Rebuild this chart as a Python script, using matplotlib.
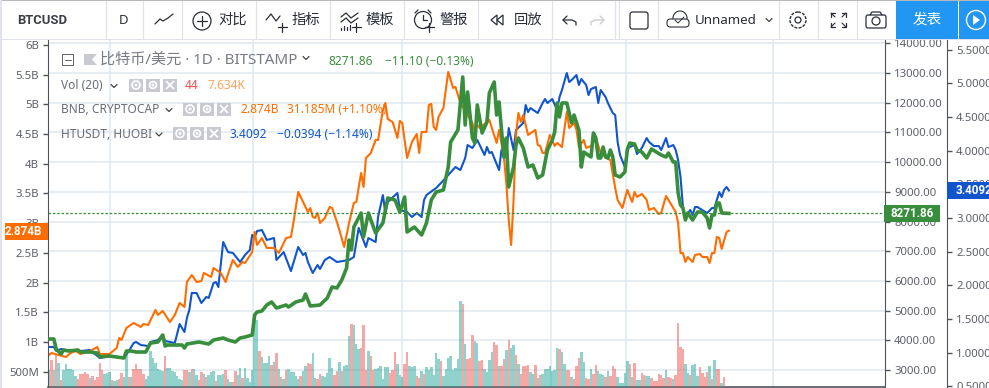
import matplotlib
matplotlib.use('Agg')
import matplotlib.pyplot as plt
from matplotlib.patches import Circle, Rectangle, FancyBboxPatch, Polygon

plt.rcParams['font.family'] = ['Noto Sans', 'Noto Sans CJK SC', 'DejaVu Sans']

btc_days = [0, 2, 3, 5, 6, 8, 12, 13, 17, 20, 21, 25, 31, 32, 34, 36, 40, 42, 45, 47, 48, 49, 55, 56, 57, 62, 66, 68, 72, 74,
            77, 79, 81, 84, 85, 86, 88, 90, 92, 94, 98, 99, 102, 105, 106, 108, 112, 115, 117, 119, 121, 123, 124, 125,
            126, 129, 130, 132, 135, 138, 140, 143, 145, 147, 148, 151, 154, 156, 158, 160, 163, 165, 166, 169, 171,
            172, 173, 175, 176, 177, 179, 181, 182, 184, 185, 186, 188, 189, 190, 192, 193, 194, 196, 198, 200, 202,
            204, 206, 208, 209, 210, 211, 212, 214, 216, 217, 219, 220, 221, 224, 225, 226, 227, 228, 229, 230, 231,
            232, 233, 234, 236, 238, 239, 240, 242, 243, 245, 247, 249, 253, 255, 256, 258, 259, 260, 261, 262, 263,
            264, 266, 268, 270, 272, 273, 274, 275, 276, 277, 278, 281]
btc_close = [4044, 4044, 3707, 3539, 3673, 3640, 3673, 3606, 3606, 3572, 3438, 3471, 3404, 3640, 3640, 3606, 3606, 3909,
             3943, 4179, 3808, 3842, 3842, 3741, 3875, 3943, 3875, 4010, 4078, 4010, 3943, 4078, 4111, 4179, 4852, 4953,
             4987, 5188, 5290, 5088, 5188, 5121, 5290, 5357, 5559, 5155, 5188, 5424, 5795, 5761, 6030, 6434, 7377, 7040,
             7815, 8286, 7478, 8286, 7613, 7950, 8791, 8724, 8320, 8825, 7646, 7815, 7545, 7950, 8724, 8993, 9061, 9835,
             10677, 11081, 12865, 11249, 12360, 10811, 10643, 11923, 10980, 11350, 12327, 12697, 11586, 12024, 10172,
             10811, 9162, 9835, 10576, 10811, 10475, 9835, 9902, 9465, 9566, 10407, 10744, 11013, 11990, 11519, 11990,
             11990, 11316, 11586, 11081, 9835, 10340, 10172, 10980, 10811, 10138, 10138, 10508, 10172, 10138, 10407,
             10172, 9566, 9498, 9667, 10407, 10643, 10610, 10407, 10340, 10138, 10441, 10239, 10172, 10306, 10003, 10003,
             8960, 8556, 8455, 8051, 8286, 8051, 8320, 8320, 8118, 7781, 8219, 8219, 8623, 8623, 8286, 8271.86]

ht_days = [0, 2, 3, 5, 7, 11, 13, 17, 21, 25, 31, 33, 35, 36, 38, 41, 42, 45, 47, 48, 52, 54, 56, 57, 58, 59, 61, 63, 65,
           66, 68, 69, 70, 72, 74, 76, 79, 81, 83, 84, 85, 86, 88, 90, 93, 94, 97, 100, 103, 105, 106, 107, 109, 111,
           112, 114, 116, 119, 124, 126, 128, 131, 132, 135, 136, 138, 139, 140, 144, 145, 148, 150, 152, 154, 155,
           156, 160, 162, 165, 168, 170, 172, 173, 175, 177, 178, 180, 181, 182, 183, 186, 187, 189, 190, 192, 193,
           196, 197, 198, 199, 202, 204, 205, 206, 208, 210, 211, 212, 214, 215, 216, 218, 219, 220, 222, 223, 224,
           226, 227, 228, 230, 231, 233, 234, 235, 236, 238, 239, 242, 243, 245, 247, 248, 250, 252, 253, 255, 256,
           258, 259, 260, 261, 262, 263, 265, 266, 267, 268, 270, 272, 274, 275, 277, 278, 279, 280, 281]
ht_close = [1.086, 1.086, 1.026, 1.056, 1.041, 1.041, 1.026, 1.041, 0.922, 0.952, 0.922, 1.026, 1.145, 1.160, 1.115, 1.100,
            1.160, 1.189, 1.264, 1.175, 1.145, 1.427, 1.308, 1.516, 1.635, 1.887, 1.887, 1.739, 1.828, 1.813, 2.035,
            2.050, 1.976, 2.644, 2.495, 2.481, 2.347, 2.451, 2.525, 2.748, 2.718, 2.807, 2.822, 2.674, 2.703, 2.377,
            2.495, 2.213, 2.570, 2.451, 2.481, 2.347, 2.184, 2.303, 2.243, 2.377, 2.421, 2.347, 2.377, 2.421, 2.852,
            2.570, 2.703, 2.644, 3.015, 3.341, 3.074, 3.237, 3.371, 3.119, 3.089, 3.015, 3.074, 3.015, 3.267, 3.341,
            3.445, 3.519, 3.638, 3.757, 3.712, 3.890, 4.083, 4.039, 4.158, 4.083, 3.935, 4.054, 3.965, 3.980, 3.712,
            4.009, 3.935, 4.336, 4.009, 4.306, 4.410, 4.677, 4.573, 4.632, 4.558, 4.707, 4.766, 4.707, 4.766, 4.603,
            4.796, 4.900, 5.152, 5.018, 5.048, 5.122, 4.974, 5.063, 4.974, 4.825, 4.914, 4.944, 4.707, 4.900, 4.796,
            4.707, 4.558, 4.529, 4.128, 3.935, 3.757, 4.039, 4.083, 3.950, 4.039, 4.187, 4.128, 4.068, 4.068, 4.009,
            4.187, 4.054, 4.083, 4.009, 3.861, 3.608, 3.163, 3.015, 3.119, 3.045, 3.163, 3.163, 3.119, 3.074, 3.148,
            3.148, 3.386, 3.312, 3.416, 3.460, 3.4092]

bnb_days = [0, 1, 4, 7, 9, 11, 13, 17, 20, 21, 25, 28, 29, 30, 32, 35, 38, 39, 41, 44, 45, 47, 50, 52, 54, 56, 57, 59, 61,
            63, 64, 67, 68, 71, 73, 74, 76, 78, 80, 81, 84, 85, 86, 88, 90, 93, 95, 98, 100, 101, 103, 105, 107, 108,
            109, 110, 111, 112, 114, 116, 117, 119, 120, 122, 124, 126, 127, 129, 130, 131, 133, 135, 136, 138, 139,
            140, 142, 144, 145, 146, 148, 150, 152, 153, 154, 156, 157, 158, 159, 160, 161, 163, 165, 167, 168, 170,
            175, 176, 177, 178, 182, 183, 185, 186, 188, 189, 190, 191, 192, 193, 194, 195, 196, 198, 201, 202, 203,
            204, 205, 207, 209, 210, 212, 214, 215, 217, 218, 219, 221, 222, 224, 226, 228, 231, 232, 234, 235, 237,
            239, 241, 242, 243, 245, 247, 248, 250, 252, 253, 255, 259, 260, 261, 262, 263, 264, 266, 267, 269, 270,
            272, 273, 274, 275, 276, 277, 278, 280, 281]
bnb_close = [0.781, 0.815, 0.781, 0.747, 0.815, 0.848, 0.798, 0.848, 0.916, 0.798, 0.798, 0.899, 1.067, 1.034, 1.236, 1.320,
             1.253, 1.303, 1.286, 1.539, 1.455, 1.522, 1.337, 1.455, 1.657, 1.589, 2.010, 2.128, 2.010, 2.027, 2.162,
             2.095, 2.246, 2.162, 2.010, 2.145, 2.381, 2.263, 2.347, 2.330, 2.515, 2.852, 2.633, 2.751, 2.583, 2.583,
             2.498, 2.751, 2.768, 3.004, 3.526, 3.357, 3.189, 3.256, 3.105, 3.088, 3.172, 3.004, 3.088, 3.273, 3.256,
             3.021, 2.886, 2.600, 3.004, 3.341, 3.357, 3.846, 3.610, 4.098, 4.182, 4.401, 4.401, 4.906, 5.024, 4.754,
             4.704, 4.435, 4.721, 4.687, 4.098, 4.367, 4.502, 4.182, 4.536, 4.536, 4.991, 5.008, 4.620, 4.570, 4.789,
             4.941, 5.547, 5.277, 5.294, 5.024, 4.687, 4.536, 4.654, 4.603, 4.738, 4.603, 4.351, 4.570, 4.115, 3.678,
             3.054, 2.633, 3.391, 4.486, 4.856, 4.704, 4.822, 4.486, 4.570, 4.317, 4.300, 4.182, 4.182, 4.486, 4.300,
             4.351, 4.283, 4.873, 4.603, 4.687, 4.570, 4.283, 4.401, 4.267, 4.300, 4.435, 4.182, 4.082, 4.064, 3.593,
             3.391, 3.256, 3.560, 3.357, 3.526, 3.442, 3.492, 3.391, 3.223, 3.256, 3.155, 3.172, 3.459, 3.189, 3.004,
             2.498, 2.498, 2.347, 2.431, 2.347, 2.465, 2.481, 2.431, 2.431, 2.330, 2.498, 2.498, 2.768, 2.751, 2.566,
             2.852, 2.874]

volume = [17, 27, 17, 32, 24, 7, 17, 23, 18, 18, 17, 11, 8, 13, 13, 15, 13, 9, 11, 7,
          10, 24, 17, 13, 14, 15, 7, 6, 7, 8, 14, 10, 32, 10, 10, 18, 23, 18, 18, 13,
          8, 11, 36, 29, 24, 18, 17, 16, 31, 19, 19, 16, 15, 11, 8, 7, 17, 17, 15, 18, 18,
          12, 7, 15, 13, 10, 12, 15, 16, 6, 12, 12, 13, 17, 8, 5, 5, 16, 12, 19, 9,
          19, 9, 5, 17, 67, 67, 36, 30, 24, 24, 31, 22, 25, 34, 18, 10, 8, 17, 18, 15,
          15, 11, 8, 11, 16, 21, 24, 23, 34, 9, 8, 13, 11, 10, 14, 29, 19, 12, 16, 25, 16, 21,
          22, 51, 63, 62, 43, 38, 39, 62, 17, 36, 31, 17, 18, 19, 21, 8, 20, 20, 14, 17,
          35, 23, 12, 10, 23, 35, 21, 20, 21, 11, 9, 16, 13, 20, 17, 20, 12, 34, 28, 26,
          11, 18, 29, 31, 17, 19, 28, 86, 83, 43, 28, 29, 52, 46, 44, 26, 27, 18, 15, 27,
          35, 45, 42, 21, 21, 28, 37, 47, 39, 42, 32, 23, 13, 21, 21, 22, 15, 13, 22, 9,
          12, 13, 18, 18, 21, 16, 17, 39, 38, 35, 23, 17, 17, 10, 8, 21, 29, 35, 25, 9,
          8, 18, 13, 22, 16, 13, 12, 10, 16, 11, 21, 18, 10, 4, 4, 14, 26, 23, 10, 24,
          7, 7, 14, 12, 11, 11, 9, 6, 6, 13, 12, 9, 17, 10, 9, 8, 12, 64, 40, 38,
          23, 14, 12, 22, 23, 11, 20, 14, 10, 15, 21, 8, 27, 18, 18, 4, 10]
# t = up day, r = down day
vol_dir = ('trtrtrtttt' 'ttrrrrrtrr' 'rrrtttrttr' 'rttrtrrrrr' 'ttttttttrt' 'ttttttrrtr' 't'
           'trrtrtttrt' 'ttrttrrttr' 'ttttttrttt' 'trtrtrtrtt' 'tttrttrrtt' 'rrtttttrrt' 'rt'
           'ttrtttrrrt' 'rrttttttrr' 'rtttrrtttr' 'rtrttttttr' 'ttttttttrt' 'rrrttrrttt' 'trrtrrtrtt'
           'rtrrrrttrt' 'rtttttttrt' 'trrtrrrttr' 'rtrrtttrtr' 'rrtttttrtr' 'ttrrttrrrr' 'rrtrrtrrrr'
           'ttrtttrrrr' 'trtrrtr')

bnb_ticks = [0.5, 1, 1.5, 2, 2.5, 3, 3.5, 4, 4.5, 5, 5.5, 6]
bnb_labels = ['500M', '1B', '1.5B', '2B', '2.5B', '3B', '3.5B', '4B', '4.5B', '5B', '5.5B', '6B']
btc_ticks = [3000, 4000, 5000, 6000, 7000, 8000, 9000, 10000, 11000, 12000, 13000, 14000]
ht_ticks = [0.5, 1, 1.5, 2, 2.5, 3, 3.5, 4, 4.5, 5, 5.5]
grid_days = [25.2, 84.3, 145.9, 207.4, 238.4, 299.2]

BLUE = '#1155cc'
ORANGE = '#ff6d00'
GREEN = '#388e3c'
TEXT = '#5d606b'
AXIS = '#50535e'
GRID = '#dfe9f0'
ICON = '#2a2e39'
BOLD_FONT = ['Roboto', 'Noto Sans CJK SC']

fig = plt.figure(figsize=(9.89, 3.88), dpi=100)
W, H = 989.0, 388.0
left, right, top, bottom = 48, 885, 40, 387
ax = fig.add_axes([left / W, 1 - bottom / H, (right - left) / W, (bottom - top) / H])
xlim = (-0.4, 345.5)

# base axes only carries the grid and the price ticks
ax.set_xlim(xlim)
ax.set_ylim(2428, 14111)
ax.set_xticks(grid_days)
ax.set_yticks(btc_ticks)
ax.set_yticklabels(['%.2f' % t for t in btc_ticks])
ax.grid(True, color=GRID, linewidth=1.1)
ax.set_axisbelow(True)
ax.tick_params(axis='x', length=0, labelbottom=False)
ax.tick_params(axis='y', length=3.5, width=1, color=AXIS, labelcolor=TEXT, labelsize=8.2, pad=3)
for s in ['top', 'left']:
    ax.spines[s].set_visible(False)
ax.spines['right'].set_color(AXIS)
ax.spines['bottom'].set_color(AXIS)
ax.spines['bottom'].set_linewidth(1.2)

ax_vol = ax.twinx()
ax_vol.set_xlim(xlim)
ax_vol.set_ylim(0, 347)
colors = [(38 / 255, 166 / 255, 154 / 255, 0.5) if d == 't' else (239 / 255, 83 / 255, 80 / 255, 0.5) for d in vol_dir]
ax_vol.bar(range(len(volume)), volume, width=1.0, color=colors, linewidth=0, antialiased=False)
ax_vol.axis('off')

ax_ht = ax.twinx()
ax_ht.set_xlim(xlim)
ax_ht.set_ylim(0.492, 5.642)
ax_ht.plot(ht_days, ht_close, color=BLUE, linewidth=1.5, solid_joinstyle='round')
ax_ht.set_yticks(ht_ticks)
ax_ht.set_yticklabels(['%.4f' % t for t in ht_ticks])
# outward is in points: 62 px at 100 dpi
ax_ht.spines['right'].set_position(('outward', 62 * 0.72))
ax_ht.spines['right'].set_color(AXIS)
ax_ht.tick_params(axis='y', length=3.5, width=1, color=AXIS, labelcolor=TEXT, labelsize=8.2, pad=3)
for s in ['top', 'left', 'bottom']:
    ax_ht.spines[s].set_visible(False)

ax_bnb = ax.twinx()
ax_bnb.set_xlim(xlim)
ax_bnb.set_ylim(0.2424, 6.084)
ax_bnb.plot(bnb_days, bnb_close, color=ORANGE, linewidth=1.5, solid_joinstyle='round')
ax_bnb.yaxis.tick_left()
ax_bnb.set_yticks(bnb_ticks)
ax_bnb.set_yticklabels(bnb_labels)
ax_bnb.tick_params(axis='y', length=3.5, width=1, color=AXIS, labelcolor=TEXT, labelsize=8.2, pad=3)
ax_bnb.spines['left'].set_visible(True)
ax_bnb.spines['left'].set_color(AXIS)
for s in ['top', 'right', 'bottom']:
    ax_bnb.spines[s].set_visible(False)

ax_btc = ax.twinx()
ax_btc.set_xlim(xlim)
ax_btc.set_ylim(2428, 14111)
ax_btc.plot(btc_days, btc_close, color=GREEN, linewidth=2.6, solid_joinstyle='round')
ax_btc.axhline(btc_close[-1], color=GREEN, linewidth=0.9, linestyle=(0, (2, 1.5)))
ax_btc.axis('off')

# twinx moves the base ticks to the left, put them back
ax.yaxis.tick_right()
ax.tick_params(axis='y', length=3.5, width=1, color=AXIS, labelcolor=TEXT, labelsize=8.2, pad=3)

# toolbar, tags and legend go on a pixel overlay
ov = fig.add_axes([0, 0, 1, 1], zorder=20)
ov.set_xlim(0, W)
ov.set_ylim(H, 0)
ov.axis('off')


def seg(xs, ys, color=ICON, lw=0.9):
    ov.plot(xs, ys, color=color, linewidth=lw, solid_capstyle='round', solid_joinstyle='round')


def txt(x, y, s, color=TEXT, size=8.6, ha='left', **kw):
    ov.text(x, y, s, color=color, fontsize=size, ha=ha, va='center', **kw)


def chevron(x, y, color='#444444'):
    seg([x - 3, x, x + 3], [y - 1.5, y + 1.5, y - 1.5], color=color, lw=0.9)


def plus(x, y, r=4):
    seg([x - r, x + r], [y, y])
    seg([x, x], [y - r, y + r])


def pane_buttons(x, y):
    # eye, gear and close buttons next to a legend row
    for i, mark in enumerate(['eye', 'gear', 'x']):
        bx = x + i * 17
        ov.add_patch(Rectangle((bx, y - 6.5), 14, 13, color='#c8c9d1', linewidth=0))
        if mark == 'x':
            seg([bx + 3.5, bx + 10.5], [y - 3.5, y + 3.5], color='white', lw=1.3)
            seg([bx + 3.5, bx + 10.5], [y + 3.5, y - 3.5], color='white', lw=1.3)
        else:
            ov.add_patch(Circle((bx + 7, y), 4 if mark == 'eye' else 3.4, fill=False, ec='white', lw=1.2))
            ov.add_patch(Circle((bx + 7, y), 1.5, color='white', lw=0))


ov.add_patch(Rectangle((0, 0), W, 39, color='white', linewidth=0, zorder=0))
ov.add_patch(Rectangle((0, 0), W, 1, color='#b8b8b8', linewidth=0))
ov.add_patch(Rectangle((0, 38.5), W, 1.5, color='#e0e3eb', linewidth=0))
ov.add_patch(Rectangle((0, 0), 2, H, color='#e0e3eb', linewidth=0))
for x in [105.5, 143, 182, 256, 330, 404, 478, 552, 615, 619, 658, 779, 818, 857]:
    seg([x, x], [1, 39], color='#e0e3eb', lw=0.9)
ov.add_patch(Rectangle((896, 1), 62, 38, color='#2196f3', linewidth=0))
ov.add_patch(Rectangle((959, 1), 30, 38, color='#2196f3', linewidth=0))

txt(17, 20, 'BTCUSD', color='#3b3e47', size=9.4, fontweight='bold', family=BOLD_FONT)
txt(124, 20, 'D', color='#2a2e39', size=9.5, ha='center')
txt(218, 20.5, '对比', color=ICON, size=10.3)
txt(292, 20.5, '指标', color=ICON, size=10.3)
txt(366, 20.5, '模板', color=ICON, size=10.3)
txt(440, 20.5, '警报', color=ICON, size=10.3)
txt(514, 20.5, '回放', color=ICON, size=10.3)
txt(695, 20, 'Unnamed', color=ICON, size=9.6)
txt(927, 20.5, '发表', color='white', size=10.5, ha='center')

seg([155, 160, 163, 168, 173], [24, 19, 21, 18, 14])
ov.add_patch(Circle((202, 21), 9, fill=False, ec=ICON, lw=0.9))
plus(202, 21, 5)
seg([266, 271, 276, 280], [20, 14, 21, 16])
plus(282, 27, 4.5)
seg([341, 346, 351, 358], [17, 13, 18, 13])
seg([341, 346, 351, 358], [22, 18, 23, 18])
for i, h in enumerate([2, 4, 3, 5]):
    seg([341 + i * 3, 341 + i * 3], [30, 30 - h])
plus(356, 27, 4.5)
ov.add_patch(Circle((423, 20), 8.5, fill=False, ec=ICON, lw=0.9))
seg([423, 423, 427], [15, 20, 20])
seg([415, 418], [13, 10])
seg([431, 428], [13, 10])
plus(429, 27, 4.5)
ov.add_patch(Polygon([[503, 15], [503, 25], [497, 20]], fill=False, ec=ICON, lw=0.9))
ov.add_patch(Polygon([[497, 15], [497, 25], [491, 20]], fill=False, ec=ICON, lw=0.9))
seg([567, 563, 567], [16, 20, 24])
seg([563, 572, 576, 576], [20, 20, 22, 25])
seg([600, 604, 600], [16, 20, 24], color='#c8c9d1')
seg([604, 595, 591, 591], [20, 20, 22, 25], color='#c8c9d1')
ov.add_patch(FancyBboxPatch((630, 12), 18, 17, boxstyle='round,pad=0,rounding_size=2.5', fc='white', ec=ICON, lw=0.9))
ov.add_patch(Circle((680, 18), 7, fill=False, ec=ICON, lw=0.8))
ov.add_patch(FancyBboxPatch((667, 19), 22, 8, boxstyle='round,pad=0,rounding_size=3.5', fc='white', ec=ICON, lw=0.8))
seg([675, 678, 684], [20, 23, 17], lw=0.7)
chevron(769, 20)
ov.add_patch(Circle((798, 20), 8, fill=False, ec=ICON, lw=1.0, linestyle=(0, (2.2, 0.9))))
ov.add_patch(Circle((798, 20), 3, fill=False, ec=ICON, lw=0.9))
for sx, sy in [(831, 13), (846, 13), (831, 27), (846, 27)]:
    dx = 4 if sx < 838 else -4
    dy = 4 if sy < 20 else -4
    seg([sx + dx, sx, sx], [sy, sy, sy + dy])
    seg([sx, sx + dx], [sy, sy + dy], lw=0.8)
ov.add_patch(FancyBboxPatch((866, 15), 20, 13, boxstyle='round,pad=0,rounding_size=2', fill=False, ec=ICON, lw=0.9))
seg([870, 872, 880, 882], [15, 12, 12, 15])
ov.add_patch(Circle((876, 21), 4, fill=False, ec=ICON, lw=0.9))
ov.add_patch(Circle((976, 20), 9.5, fill=False, ec='white', lw=1.0))
ov.add_patch(Polygon([[973, 15], [973, 25], [980, 20]], color='white', lw=0))

# price tags
ov.add_patch(Rectangle((5, 223), 43, 17, color=ORANGE, linewidth=0))
txt(5, 231.5, '2.874B', color='white', size=8.4, fontweight='bold', family=BOLD_FONT)
ov.add_patch(Rectangle((884, 205), 56, 17, color=GREEN, linewidth=0))
txt(912, 213.5, '8271.86', color='white', size=8.4, ha='center', fontweight='bold', family=BOLD_FONT)
ov.add_patch(Rectangle((947, 182), 42, 17, color=BLUE, linewidth=0))
txt(956, 190.5, '3.4092', color='white', size=8.4, fontweight='bold', family=BOLD_FONT)

# legend rows
ov.add_patch(Rectangle((62, 54), 11, 11, fill=False, ec='#60636e', lw=0.7))
seg([64.5, 70.5], [59.5, 59.5], color='#60636e', lw=0.7)
ov.add_patch(Polygon([[84, 54], [97, 54], [92, 59.5], [97, 65], [84, 65]], color='#c8c9d1', lw=0))
txt(100, 60, '比特币/美元 · 1D · BITSTAMP', color='#787b86', size=10.9)
chevron(306, 58)
txt(328, 61.5, '8271.86', color=GREEN, size=8.6)
txt(385, 61.5, '−11.10 (−0.13%)', color=GREEN, size=8.6)

txt(61, 85.5, 'Vol (20)', color='#6a6d78', size=8.6)
chevron(114, 86)
pane_buttons(129, 85)
txt(185, 85.5, '44', color='#ef5350', size=8.6)
txt(207, 85.5, '7.634K', color='#ffa35c', size=8.6)

txt(61, 109.5, 'BNB, CRYPTOCAP', color='#6a6d78', size=8.6)
chevron(169, 110)
pane_buttons(183, 109)
txt(240, 109.5, '2.874B', color=ORANGE, size=8.6)
txt(287, 109.5, '31.185M (+1.10%)', color=ORANGE, size=8.6)

txt(61, 134, 'HTUSDT, HUOBI', color='#6a6d78', size=8.6)
chevron(159, 134.5)
pane_buttons(173, 133.5)
txt(230, 134, '3.4092', color=BLUE, size=8.6)
txt(277, 134, '−0.0394 (−1.14%)', color=BLUE, size=8.6)

fig.savefig('out.png', dpi=100)
